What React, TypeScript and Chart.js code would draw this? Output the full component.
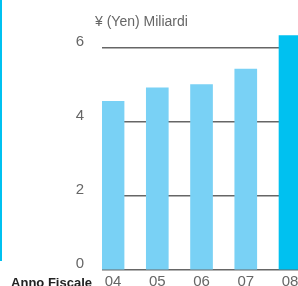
import React, { useEffect, useRef } from "react";
import { Chart, registerables } from "chart.js";

Chart.register(...registerables);

const years = [4, 5, 6, 7, 8];
const yearLabels = ["04", "05", "06", "07", "08"];
const values = [4.55, 4.91, 5.0, 5.42, 6.32];
const barColors = ["#79d1f5", "#79d1f5", "#79d1f5", "#79d1f5", "#00c1f0"];
const yTicks = [0, 2, 4, 6];
const yTitle = "¥ (Yen) Miliardi";
const xTitle = "Anno Fiscale";

const FONT = "'Liberation Sans', Arial, Helvetica, sans-serif";

export default function App() {
  const ref = useRef<HTMLCanvasElement>(null);

  useEffect(() => {
    if (!ref.current) return;
    const extraLabels = {
      id: "extraLabels",
      afterDraw(chart: any) {
        const ctx = chart.ctx;
        const left = chart.chartArea.left;
        ctx.save();
        ctx.fillStyle = "#666666";
        ctx.font = `14px ${FONT}`;
        ctx.textAlign = "left";
        ctx.textBaseline = "alphabetic";
        ctx.fillText(yTitle, left - 7, 26);
        ctx.fillStyle = "#222222";
        ctx.font = `bold 13px ${FONT}`;
        ctx.textAlign = "right";
        ctx.fillText(xTitle, left - 10, 287);
        ctx.restore();
      },
    };

    const chart = new Chart(ref.current, {
      type: "bar",
      data: {
        datasets: [
          {
            data: years.map((x, i) => ({ x, y: values[i] })),
            backgroundColor: barColors,
            barThickness: 22,
            borderWidth: 0,
          },
        ],
      },
      options: {
        animation: false,
        responsive: false,
        maintainAspectRatio: false,
        layout: { padding: { top: 29, left: 0, right: 0, bottom: 0 } },
        plugins: {
          legend: { display: false },
          tooltip: { enabled: false },
          title: { display: false },
        },
        scales: {
          x: {
            type: "linear",
            offset: false,
            min: 3.75,
            max: 9.13,
            grid: { display: false, drawTicks: false },
            border: { display: false },
            afterBuildTicks: (scale: any) => {
              scale.ticks = years.map((v) => ({ value: v }));
            },
            afterFit: (scale: any) => {
              scale.height = 16;
              scale.paddingLeft = 0;
              scale.paddingRight = 0;
            },
            ticks: {
              autoSkip: false,
              maxRotation: 0,
              padding: 3,
              color: "#666666",
              font: { size: 15, family: FONT },
              callback: (v: any) => yearLabels[years.indexOf(Number(v))] ?? "",
            },
          },
          y: {
            type: "linear",
            min: 0,
            max: 6.5,
            z: 1,
            grid: { color: "#666666", lineWidth: 1.5, drawTicks: false },
            border: { display: false },
            afterBuildTicks: (scale: any) => {
              scale.ticks = yTicks.map((v) => ({ value: v }));
            },
            afterFit: (scale: any) => {
              scale.width = 102;
              scale.paddingTop = 0;
              scale.paddingBottom = 0;
            },
            ticks: {
              padding: 18,
              labelOffset: -6,
              color: "#666666",
              font: { size: 15, family: FONT },
            },
          },
        },
      } as any,
      plugins: [extraLabels],
    });
    return () => chart.destroy();
  }, []);

  return (
    <div
      style={{
        position: "absolute",
        left: 0,
        top: 0,
        width: 298,
        height: 286,
        overflow: "hidden",
        background: "#ffffff",
      }}
    >
      <canvas ref={ref} width={340} height={286} style={{ display: "block", width: 340, height: 286 }} />
      <div
        style={{
          position: "absolute",
          left: 0,
          top: 0,
          width: 2,
          height: 261,
          background: "#00c1f0",
        }}
      />
    </div>
  );
}
